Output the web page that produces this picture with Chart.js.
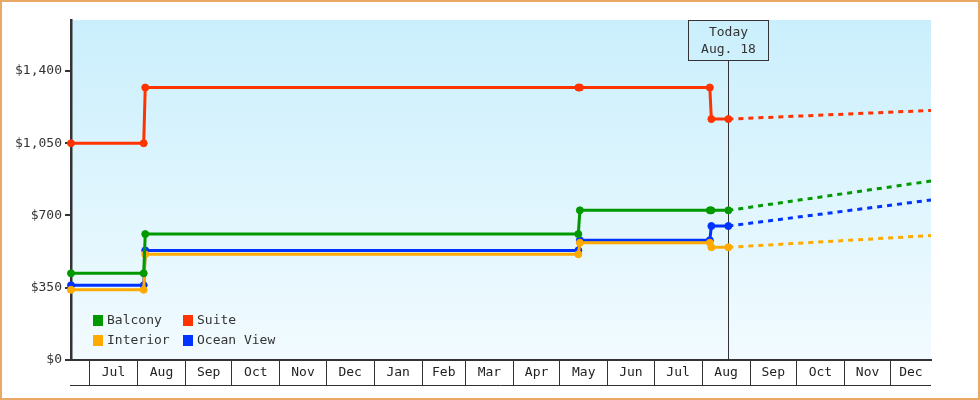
<!DOCTYPE html>
<html lang="en">
<head>
<meta charset="UTF-8">
<title>Cabin price history</title>
<style>
  body { margin: 0; background: #fff; }
  canvas { display: block; }
</style>
</head>
<body>
<canvas id="priceChart" width="980" height="400"></canvas>
<script src="https://cdn.jsdelivr.net/npm/chart.js@4.4.1/dist/chart.umd.min.js"></script>
<script>
// price history, one value per date
var dates = ['2014-06-19', '2014-08-05', '2014-08-06', '2015-05-13', '2015-05-14', '2015-08-06', '2015-08-07', '2015-08-18'];
var balcony = [420, 420, 610, 610, 725, 725, 725, 725];
var suite = [1050, 1050, 1320, 1320, 1320, 1320, 1167, 1167];
var interior = [340, 340, 512, 512, 568, 568, 546, 546];
var oceanView = [362, 362, 531, 531, 580, 580, 649, 649];

// forecast, today to the end of the range
var forecastDates = ['2015-08-18', '2015-12-27'];
var balconyForecast = [725, 867];
var suiteForecast = [1167, 1209];
var interiorForecast = [546, 603];
var oceanViewForecast = [649, 775];

var monthStarts = ['2014-07-01', '2014-08-01', '2014-09-01', '2014-10-01', '2014-11-01', '2014-12-01',
    '2015-01-01', '2015-02-01', '2015-03-01', '2015-04-01', '2015-05-01', '2015-06-01',
    '2015-07-01', '2015-08-01', '2015-09-01', '2015-10-01', '2015-11-01', '2015-12-01'];
var monthLabels = ['Jul', 'Aug', 'Sep', 'Oct', 'Nov', 'Dec', 'Jan', 'Feb', 'Mar', 'Apr', 'May', 'Jun',
    'Jul', 'Aug', 'Sep', 'Oct', 'Nov', 'Dec'];
var yTicks = [0, 350, 700, 1050, 1400];
var startDate = '2014-06-19';
var endDate = '2015-12-27';
var todayDate = '2015-08-18';
var todayLabel = ['Today', 'Aug. 18'];

var FONT = 'DejaVu Sans Mono';
var INK = '#333';

function day(s) {
    return Date.parse(s + 'T00:00:00Z') / 86400000;
}

// month boundaries get a tick line, month middles get the label
var xTicks = [];
var labelAt = {};
monthStarts.forEach(function (m, i) {
    var a = day(m);
    var b = i + 1 < monthStarts.length ? day(monthStarts[i + 1]) : day(endDate);
    var mid = (a + b) / 2;
    xTicks.push(a, mid);
    labelAt[mid] = monthLabels[i];
});

function series(label, color, values, forecast) {
    return [{
        label: label,
        data: dates.map(function (d, i) { return { x: day(d), y: values[i] }; }),
        borderColor: color,
        backgroundColor: color,
        borderWidth: 3,
        pointStyle: 'circle',
        pointRadius: 3.5,
        pointBorderWidth: 1,
        tension: 0,
        clip: false
    }, {
        label: label + ' forecast',
        forecast: true,
        data: forecastDates.map(function (d, i) { return { x: day(d), y: forecast[i] }; }),
        borderColor: color,
        borderWidth: 3,
        borderDash: [5, 5],
        pointRadius: 0,
        tension: 0
    }];
}

var datasets = [].concat(
    series('Balcony', '#009900', balcony, balconyForecast),
    series('Suite', '#ff3300', suite, suiteForecast),
    series('Interior', '#ffaa00', interior, interiorForecast),
    series('Ocean View', '#0033ff', oceanView, oceanViewForecast)
);

var backdrop = {
    id: 'backdrop',
    beforeDraw: function (chart) {
        var ctx = chart.ctx, a = chart.chartArea;
        ctx.save();
        ctx.fillStyle = '#fff';
        ctx.fillRect(0, 0, chart.width, chart.height);
        var g = ctx.createLinearGradient(0, a.top, 0, a.bottom);
        g.addColorStop(0, '#caeffc');
        g.addColorStop(1, '#f2fbff');
        ctx.fillStyle = g;
        ctx.fillRect(a.left, a.top, a.right - a.left, a.bottom - a.top);
        ctx.strokeStyle = '#e9a865';
        ctx.lineWidth = 2;
        ctx.strokeRect(1, 1, chart.width - 2, chart.height - 2);
        ctx.restore();
    },
    afterDraw: function (chart) {
        // closing line under the month boxes
        var ctx = chart.ctx, a = chart.chartArea;
        var y = a.bottom + chart.options.scales.x.grid.tickLength + 0.5;
        ctx.save();
        ctx.strokeStyle = INK;
        ctx.lineWidth = 1;
        ctx.beginPath();
        ctx.moveTo(a.left - 1, y);
        ctx.lineTo(a.right, y);
        ctx.stroke();
        ctx.restore();
    }
};

var todayMarker = {
    id: 'todayMarker',
    beforeDatasetsDraw: function (chart) {
        var ctx = chart.ctx, a = chart.chartArea;
        var x = Math.round(chart.scales.x.getPixelForValue(day(todayDate))) + 0.5;
        ctx.save();
        ctx.strokeStyle = INK;
        ctx.lineWidth = 1;
        ctx.beginPath();
        ctx.moveTo(x, a.top + 40);
        ctx.lineTo(x, a.bottom);
        ctx.stroke();
        ctx.restore();
    },
    afterDraw: function (chart) {
        var ctx = chart.ctx, a = chart.chartArea;
        var x = Math.round(chart.scales.x.getPixelForValue(day(todayDate))) + 0.5;
        ctx.save();
        ctx.strokeStyle = INK;
        ctx.lineWidth = 1;
        ctx.strokeRect(x - 40, a.top + 0.5, 80, 40);
        ctx.fillStyle = INK;
        ctx.font = '13px ' + FONT;
        ctx.textAlign = 'center';
        ctx.textBaseline = 'middle';
        ctx.fillText(todayLabel[0], x, a.top + 12.5);
        ctx.fillText(todayLabel[1], x, a.top + 30);
        ctx.restore();
    }
};

var boxLegend = {
    id: 'boxLegend',
    afterDraw: function (chart) {
        var ctx = chart.ctx, a = chart.chartArea;
        var items = chart.data.datasets.filter(function (d) { return !d.forecast; });
        ctx.save();
        ctx.font = '13px ' + FONT;
        ctx.textBaseline = 'middle';
        items.forEach(function (d, i) {
            var x = a.left + 22 + (i % 2) * 90;
            var y = a.bottom - 45 + Math.floor(i / 2) * 20;
            ctx.fillStyle = d.borderColor;
            ctx.fillRect(x, y, 10, 11);
            ctx.fillStyle = INK;
            ctx.fillText(d.label, x + 14, y + 6);
        });
        ctx.restore();
    }
};

new Chart(document.getElementById('priceChart'), {
    type: 'line',
    data: { datasets: datasets },
    options: {
        responsive: false,
        animation: false,
        layout: { padding: { top: 20, right: 49, bottom: 0, left: 0 } },
        plugins: {
            legend: { display: false },
            tooltip: { enabled: false }
        },
        scales: {
            x: {
                type: 'linear',
                min: day(startDate),
                max: day(endDate),
                afterBuildTicks: function (s) {
                    s.ticks = xTicks.map(function (v) { return { value: v }; });
                },
                afterFit: function (s) { s.height = 40; },
                grid: {
                    drawOnChartArea: false,
                    tickLength: 25,
                    lineWidth: 1,
                    color: function (c) {
                        return c.tick && labelAt[c.tick.value] !== undefined ? 'rgba(0,0,0,0)' : INK;
                    }
                },
                border: { color: INK, width: 2 },
                ticks: {
                    autoSkip: false,
                    maxRotation: 0,
                    padding: -20,
                    color: '#222',
                    font: { family: FONT, size: 13 },
                    callback: function (v) { return labelAt[v] || ''; }
                }
            },
            y: {
                min: 0,
                max: 1647,
                afterBuildTicks: function (s) {
                    s.ticks = yTicks.map(function (v) { return { value: v }; });
                },
                afterFit: function (s) { s.width = 71; },
                grid: { drawOnChartArea: false, tickLength: 6, lineWidth: 2, color: INK },
                border: { color: INK, width: 2.5 },
                ticks: {
                    padding: 3,
                    color: INK,
                    font: { family: FONT, size: 13 },
                    callback: function (v) { return '$' + v.toLocaleString('en-US'); }
                }
            }
        }
    },
    plugins: [backdrop, todayMarker, boxLegend]
});
</script>
</body>
</html>
